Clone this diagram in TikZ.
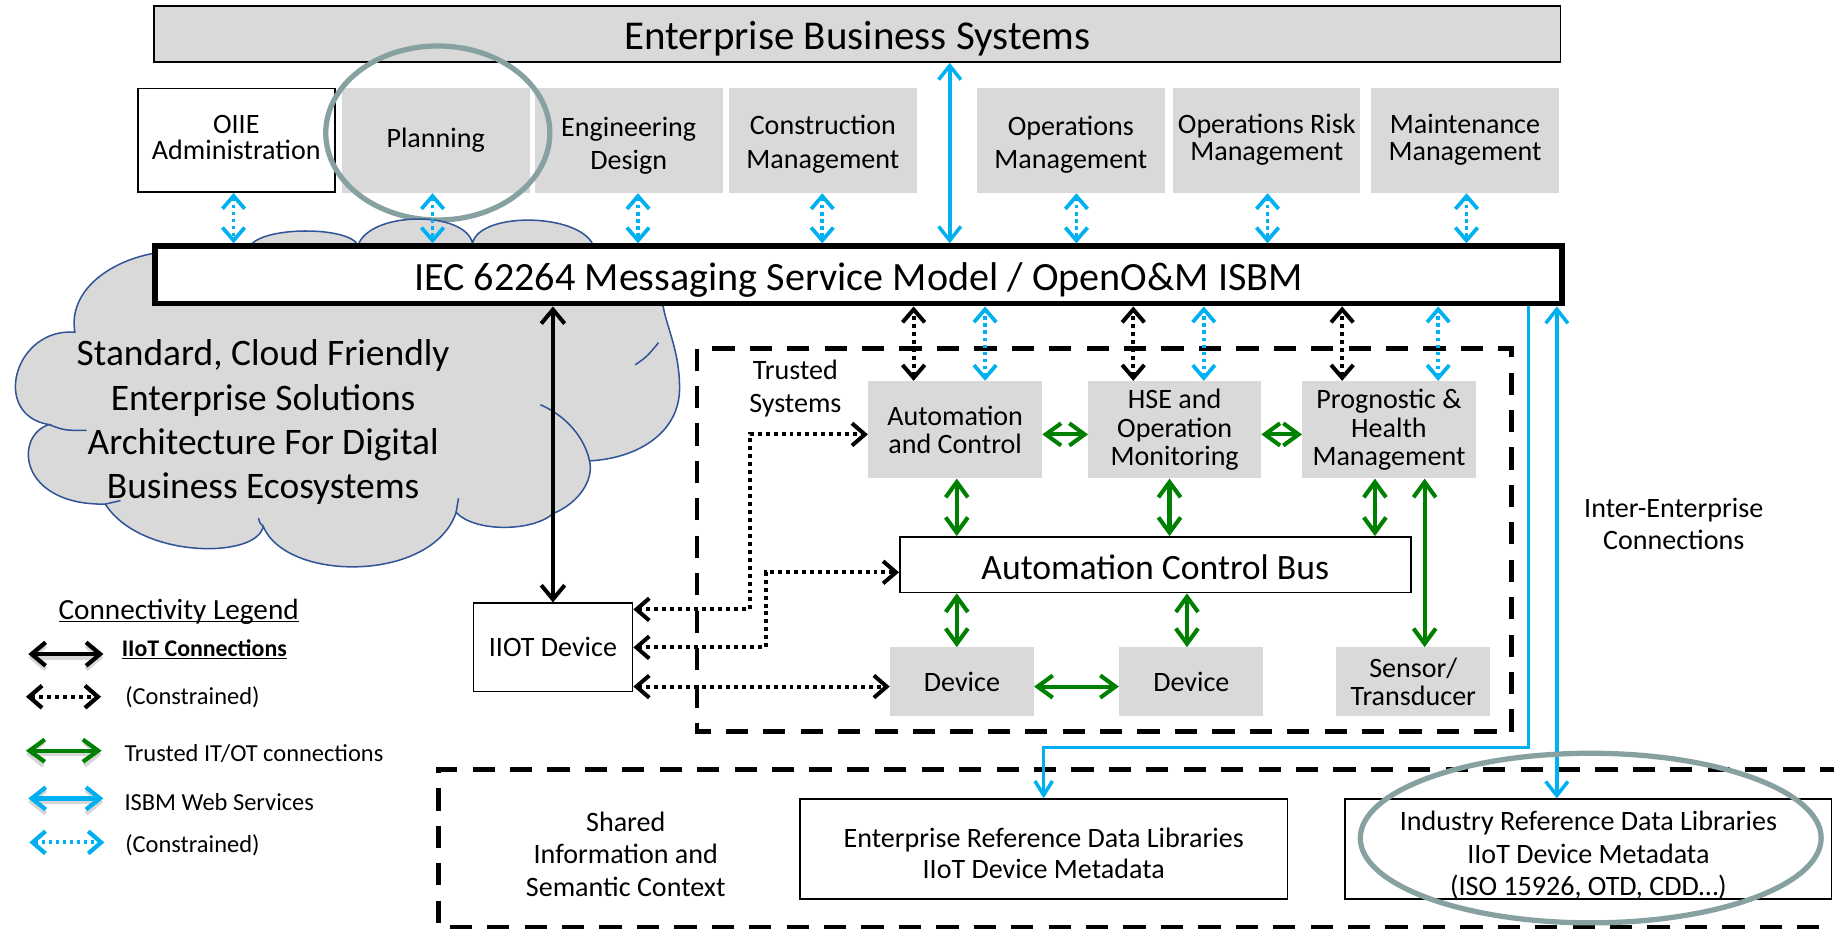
\documentclass[tikz,border=0pt]{standalone}
\usepackage{fontspec}
\setmainfont{Carlito}
\usetikzlibrary{arrows.meta}
\definecolor{boxgray}{HTML}{D9D9D9}
\definecolor{isbmblue}{HTML}{00B0F0}
\definecolor{tgreen}{HTML}{008000}
\definecolor{cloudline}{HTML}{2F5597}
\definecolor{ringgray}{RGB}{135,161,161}
\newcommand{\fsz}[2]{\fontsize{#1pt}{#2pt}\selectfont}
\newcommand{\myuline}[2]{\setbox0\hbox{#2}\leavevmode\rlap{\rule[-2.6pt]{\wd0}{#1}}\box0}
\tikzset{
  graybox/.style={fill=boxgray, inner sep=0pt, align=center, font=\fsz{24}{24.2}},
  whitebox/.style={fill=white, draw=black, line width=1.5pt, inner sep=0pt, align=center, font=\fsz{24}{27}},
  boxtext/.style={inner sep=0pt, align=center, font=\fsz{24}{27}},
  plaintext/.style={inner sep=0pt, align=center, font=\fsz{24}{28}},
  legtext/.style={anchor=west, inner sep=0pt, font=\fsz{20.9}{24}},
  dashbox/.style={draw=black, line width=4pt, dash pattern=on 19pt off 13pt},
  ring/.style={draw=ringgray, line width=4.5pt},
  cloudfill/.style={fill=boxgray, draw=cloudline, line width=1.3pt},
  cloudtick/.style={draw=cloudline, line width=1.3pt},
  isbmbi/.style={draw=isbmblue, line width=3pt, arrows={Straight Barb[length=12pt,width=19pt]-Straight Barb[length=12pt,width=19pt]}},
  isbmcon/.style={draw=isbmblue, line width=3.2pt, dash pattern=on 3pt off 3pt, arrows={Straight Barb[length=11pt,width=19pt]-Straight Barb[length=11pt,width=19pt]}},
  isbmone/.style={draw=isbmblue, line width=3pt, arrows={-Straight Barb[length=12pt,width=15pt]}},
  iiotsolid/.style={draw=black, line width=3.4pt, arrows={Straight Barb[length=12pt,width=20pt]-Straight Barb[length=12pt,width=20pt]}},
  iiotcon/.style={draw=black, line width=3.4pt, dash pattern=on 3.4pt off 3.4pt, arrows={Straight Barb[length=11pt,width=19pt]-Straight Barb[length=11pt,width=19pt]}},
  trust/.style={draw=tgreen, line width=3.5pt, arrows={Straight Barb[length=13pt,width=19pt]-Straight Barb[length=13pt,width=19pt]}},
  legshadow/.style={draw=black, opacity=0.16}
}
\begin{document}
\begin{tikzpicture}[x=1pt,y=-1pt]
\useasboundingbox (0,0) rectangle (1568,795);

% ---------- Enterprise Business Systems ----------
\node[fill=boxgray, draw=black, line width=1.5pt, minimum width=1202.5pt, minimum height=47.5pt, inner sep=0pt] (ebs) at (733,29.2) {};
\node[boxtext, font=\fsz{35}{40}] (ebs-t) at (733,33.2) {Enterprise Business Systems};

% ---------- application row ----------
\node[whitebox, minimum width=168.5pt, minimum height=88.5pt] (oiie) at (202,120) {};
\node[boxtext, font=\fsz{24}{22.5}] (oiie-t) at (202,117.8) {OIIE\\Administration};
\node[graybox, minimum width=161pt, minimum height=90pt] (plan) at (372.5,120) {Planning};
\node[graybox, minimum width=161pt, minimum height=90pt] (eng) at (537.5,120) {};
\node[boxtext, font=\fsz{24}{28}] (eng-t) at (537.5,124.4) {Engineering\\Design};
\node[graybox, minimum width=161pt, minimum height=90pt] (cons) at (703.5,120) {};
\node[boxtext, font=\fsz{24}{28.6}] (cons-t) at (703.5,123.2) {Construction\\Management};
\node[graybox, minimum width=161pt, minimum height=90pt] (ops) at (915.5,120) {};
\node[boxtext, font=\fsz{24}{27.7}] (ops-t) at (915.5,123.6) {Operations\\Management};
\node[graybox, minimum width=160pt, minimum height=90pt] (risk) at (1083,120) {};
\node[boxtext, font=\fsz{24}{22.5}] (risk-t) at (1083,119.5) {Operations Risk\\Management};
\node[graybox, minimum width=161pt, minimum height=90pt] (maint) at (1252.5,120) {};
\node[boxtext, font=\fsz{24}{22.5}] (maint-t) at (1252.5,119.5) {Maintenance\\Management};

\draw[ring] (374.3,113.7) ellipse [x radius=95.8, y radius=74.4];

% ---------- cloud ----------
\path[cloudfill] (135,216)
  .. controls (95,222) and (58,248) .. (64,284)
  .. controls (12,280) and (-8,355) .. (42,363)
  .. controls (12,372) and (15,432) .. (90,431)
  .. controls (120,478) and (220,478) .. (225,450)
  .. controls (245,498) and (370,498) .. (390,438)
  .. controls (405,455) and (455,455) .. (473,439)
  .. controls (495,430) and (508,410) .. (504,394)
  .. controls (545,392) and (581,370) .. (581,332)
  .. controls (581,300) and (570,280) .. (567,262)
  -- (508,212)
  .. controls (500,182) and (410,180) .. (404,208)
  .. controls (398,180) and (316,180) .. (306,210)
  .. controls (300,193) and (220,193) .. (213,212)
  -- cycle;
\draw[cloudtick] (42,363) .. controls (55,368) .. (74,368);
\draw[cloudtick] (90,431) .. controls (97,430) .. (103,428);
\draw[cloudtick] (225,450) .. controls (222,447) .. (221,443);
\draw[cloudtick] (390,438) .. controls (391,432) .. (392,426);
\draw[cloudtick] (462,346) .. controls (485,356) and (500,375) .. (504,394);
\draw[cloudtick] (543,312) .. controls (553,305) .. (563,293);
\node[inner sep=0pt, align=center, font=\fsz{32}{38}] (cloudtxt) at (225,361) {Standard, Cloud Friendly\\Enterprise Solutions\\Architecture For Digital\\Business Ecosystems};

% ---------- ISBM bar ----------
\node[draw=black, fill=white, line width=5pt, minimum width=1203pt, minimum height=49pt, inner sep=0pt] (isbm) at (734,235) {};
\node[boxtext, font=\fsz{34.3}{40}] (isbm-t) at (734,239.4) {IEC 62264 Messaging Service Model / OpenO\&M ISBM};

\foreach \b/\dx in {oiie/-2.3, plan/-2.7, eng/8, cons/-0.5, ops/4.8, risk/0.7, maint/1.3} {
  \path ([xshift=\dx pt]\b.south) coordinate (\b-s);
  \draw[isbmcon] (\b-s) -- (\b-s |- isbm.north);
}
\path ([xshift=78pt]isbm.north) coordinate (isbmup);
\draw[isbmbi] (isbmup) -- (isbmup |- ebs.south);

% ---------- trusted systems ----------
\draw[dashbox] (596,298) rectangle (1292.5,625.5);
\node[plaintext] (trusted) at (680,332) {Trusted\\Systems};

\node[graybox, minimum width=148.8pt, minimum height=83.2pt] (acs) at (816.6,367.4) {Automation\\and Control};
\node[graybox, minimum width=147.8pt, minimum height=83.2pt] (hse) at (1004.3,367.4) {HSE and\\Operation\\Monitoring};
\node[graybox, minimum width=148.3pt, minimum height=83.2pt] (phm) at (1187.5,367.4) {Prognostic \&\\Health\\Management};
\node[whitebox, minimum width=436.7pt, minimum height=47.5pt] (bus) at (987.7,482.8) {};
\node[boxtext, font=\fsz{30.5}{36}] (bus-t) at (987.7,485.3) {Automation Control Bus};
\node[graybox, minimum width=123pt, minimum height=58.4pt] (dev1) at (822.4,582.7) {Device};
\node[graybox, minimum width=123.3pt, minimum height=58.4pt] (dev2) at (1018.5,582.7) {Device};
\node[graybox, minimum width=131.5pt, minimum height=58.4pt] (sensor) at (1208.3,582.7) {Sensor/\\Transducer};

% constrained links to the ISBM
\path ([xshift=-35.5pt]acs.north) coordinate (a1);
\draw[iiotcon] (a1) -- (a1 |- isbm.south);
\path ([xshift=25.6pt]acs.north) coordinate (a2);
\draw[isbmcon] (a2) -- (a2 |- isbm.south);
\path ([xshift=-35.4pt]hse.north) coordinate (a3);
\draw[iiotcon] (a3) -- (a3 |- isbm.south);
\path ([xshift=24.9pt]hse.north) coordinate (a4);
\draw[isbmcon] (a4) -- (a4 |- isbm.south);
\path ([xshift=-40pt]phm.north) coordinate (a5);
\draw[iiotcon] (a5) -- (a5 |- isbm.south);
\path ([xshift=42.1pt]phm.north) coordinate (a6);
\draw[isbmcon] (a6) -- (a6 |- isbm.south);

% trusted IT/OT links
\draw[trust] ([yshift=-4pt]acs.east) -- ([yshift=-4pt]hse.west);
\draw[trust] ([yshift=-4pt]hse.east) -- ([yshift=-4pt]phm.west);
\path ([xshift=1.4pt]acs.south) coordinate (g1);
\draw[trust] (g1) -- (g1 |- bus.north);
\path ([xshift=-4.4pt]hse.south) coordinate (g2);
\draw[trust] (g2) -- (g2 |- bus.north);
\path ([xshift=-12pt]phm.south) coordinate (g3);
\draw[trust] (g3) -- (g3 |- bus.north);
\path ([xshift=30.5pt]phm.south) coordinate (g4);
\draw[trust] (g4) -- (g4 |- sensor.north);
\path ([xshift=-4.4pt]dev1.north) coordinate (g5);
\draw[trust] (g5) -- (g5 |- bus.south);
\path ([xshift=-3.7pt]dev2.north) coordinate (g6);
\draw[trust] (g6) -- (g6 |- bus.south);
\draw[trust] ([yshift=-4.3pt]dev1.east) -- ([yshift=-4.3pt]dev2.west);

% ---------- IIoT device ----------
\node[whitebox, minimum width=136pt, minimum height=75.5pt] (iiot) at (472.75,553.5) {IIOT Device};
\draw[iiotsolid] (iiot.north) -- (iiot.north |- isbm.south);
\path ([yshift=32.5pt]iiot.east) coordinate (d1);
\draw[iiotcon] (d1) -- ++(99.5,0) |- ([yshift=-4pt]acs.west);
\draw[iiotcon] (iiot.east) -- ++(113,0) |- ([yshift=-6.5pt]bus.west);
\path ([yshift=-33.5pt]iiot.east) coordinate (d3);
\draw[iiotcon] (d3) -- (d3 -| dev1.west);

% ---------- shared information ----------
\draw[dashbox] (1575,658) -- (375,658) -- (375,792.5) -- (1575,792.5);
\node[plaintext, font=\fsz{24}{27.8}] (shared) at (535,730.3) {Shared\\Information and\\Semantic Context};
\node[whitebox, minimum width=417pt, minimum height=85.4pt] (erdl) at (892.3,726) {};
\node[boxtext] (erdl-t) at (892.3,729.5) {Enterprise Reference Data Libraries\\IIoT Device Metadata};
\node[whitebox, minimum width=415.6pt, minimum height=85.4pt] (irdl) at (1358,726) {};
\node[boxtext, font=\fsz{24}{27.8}] (irdl-t) at (1358,731.5) {Industry Reference Data Libraries\\IIoT Device Metadata\\(ISO 15926, OTD, CDD…)};

\path ([xshift=-31.3pt]isbm.south east) coordinate (bl1);
\draw[isbmone] (bl1) -- ++(0,377) -| (erdl.north);
\path ([xshift=-7pt]isbm.south east) coordinate (bl2);
\draw[isbmbi] (bl2) -- (bl2 |- irdl.north);

\draw[ring] (1360,716.5) ellipse [x radius=197, y radius=72.5];

\node[plaintext, font=\fsz{24}{27}] (inter) at (1431,448) {Inter-Enterprise\\Connections};

% ---------- legend ----------
\node[anchor=west, inner sep=0pt, font=\fsz{25}{30}] (lgtitle) at (49.9,523) {\myuline{1.2pt}{Connectivity Legend}};
\node[legtext, font=\fsz{20.4}{24}\bfseries] (lg1) at (104,555.2) {\myuline{1.4pt}{IIoT Connections}};
\node[legtext] (lg2) at (106.9,596.2) {(Constrained)};
\node[legtext] (lg3) at (106.3,644) {Trusted IT/OT connections};
\node[legtext] (lg4) at (106.3,685.4) {ISBM Web Services};
\node[legtext] (lg5) at (106.9,723) {(Constrained)};
\coordinate (l1a) at (24.2,559.2); \coordinate (l1b) at (88.4,559.2);
\coordinate (l2a) at (22.2,595.7); \coordinate (l2b) at (86.4,595.7);
\coordinate (l3a) at (22.2,641.8); \coordinate (l3b) at (86.9,641.8);
\coordinate (l4a) at (24.2,682.6); \coordinate (l4b) at (88.4,682.6);
\coordinate (l5a) at (25.1,720.2); \coordinate (l5b) at (89.2,720.2);
\draw[iiotsolid, legshadow, line width=3.6pt] ([yshift=-3pt]l1a) -- ([yshift=-3pt]l1b);
\draw[iiotsolid, legshadow, line width=3.6pt] ([yshift=-3pt]l3a) -- ([yshift=-3pt]l3b);
\draw[iiotsolid, legshadow, line width=3.6pt] ([yshift=-3pt]l4a) -- ([yshift=-3pt]l4b);
\draw[iiotsolid, line width=3.6pt] (l1a) -- (l1b);
\draw[iiotcon, line width=3.6pt] (l2a) -- (l2b);
\draw[trust, line width=3.6pt] (l3a) -- (l3b);
\draw[isbmbi, line width=3.6pt] (l4a) -- (l4b);
\draw[isbmcon, line width=3.6pt] (l5a) -- (l5b);
\end{tikzpicture}
\end{document}
